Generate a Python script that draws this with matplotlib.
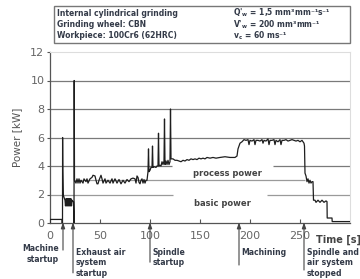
import matplotlib
matplotlib.use('Agg')
import matplotlib.pyplot as plt

# power trace (time in s, power in kW)
time_s = [0, 0, 12, 12, 12.5, 12.6, 12.8, 13.2, 14, 15, 15.5, 16, 16.5, 17, 17.5, 18,
          18.5, 19, 19.5, 20, 20.5, 21, 21.5, 22, 23, 23.5, 24, 24.2, 24.5,
          26, 27, 28, 29, 30, 31, 33, 34, 36, 37, 38, 40, 42, 43, 45, 46, 47, 48,
          49, 51, 52, 53, 55, 56, 58, 60, 62, 63, 65, 67, 69, 71, 73, 75, 77, 79,
          81, 83, 85, 86, 87, 88, 89, 90, 91, 92, 93, 94, 95, 96, 97,
          98, 98.5, 99, 100, 101, 102, 102.5, 103, 104, 106, 107, 108, 108.5, 109,
          110, 111, 112, 113, 114, 114.5, 115, 116, 117, 118, 119, 120, 120.5, 121,
          123, 125, 127, 129, 131, 133, 135, 137, 139, 141, 143, 145, 147, 149,
          151, 153, 155, 157, 160, 163, 166, 170, 175, 180, 185, 187, 188, 190,
          192, 194, 196, 198, 199, 200, 202, 204, 205, 206, 208, 210, 212, 213,
          214, 216, 218, 219, 220, 222, 224, 225, 226, 228, 230, 231, 232, 234,
          236, 238, 240, 242, 244, 246, 248, 250, 252, 254, 254.5, 255, 256, 257,
          258, 259, 260, 261, 262, 263, 263.5, 265, 266, 268, 270, 272, 274, 276,
          277, 277.2, 282, 282.2, 300]
power_kw = [0, 0.25, 0.25, 0, 0, 6.0, 3.7, 2.0, 1.8, 1.6, 1.2, 1.7, 1.2, 1.7, 1.2, 1.7,
            1.2, 1.7, 1.2, 1.7, 1.2, 1.7, 1.2, 1.6, 1.5, 1.5, 0, 10.0, 3.0,
            2.8, 3.1, 2.8, 3.1, 2.8, 3.0, 2.8, 3.1, 2.9, 3.1, 2.8, 3.1, 3.2, 3.35,
            3.3, 3.0, 2.75, 2.75, 3.0, 3.35, 3.1, 2.8, 3.1, 2.8, 3.0, 2.8, 3.1, 2.8,
            3.1, 2.8, 3.05, 2.75, 3.0, 2.8, 3.05, 2.9, 3.1, 3.15, 3.1, 2.8, 3.3,
            3.2, 2.85, 2.75, 3.0, 3.1, 2.8, 3.05, 2.8, 3.0, 3.0,
            3.6, 5.2, 3.6, 3.7, 3.9, 3.9, 5.4, 3.9, 3.95, 3.9, 4.0, 4.0, 6.3, 4.0,
            4.05, 4.0, 4.3, 4.1, 4.35, 7.3, 4.1, 4.35, 4.1, 4.4, 4.1, 4.3, 8.0, 4.5,
            4.5, 4.4, 4.4, 4.35, 4.3, 4.4, 4.35, 4.45, 4.4, 4.5, 4.45, 4.5, 4.45,
            4.55, 4.5, 4.55, 4.5, 4.6, 4.55, 4.6, 4.55, 4.6, 4.65, 4.6, 4.6, 4.7,
            5.2, 5.6, 5.7, 5.85, 5.8, 5.85, 5.5, 5.8, 5.75, 5.85, 5.5, 5.8, 5.8,
            5.75, 5.85, 5.6, 5.8, 5.75, 5.9, 5.5, 5.8, 5.8, 5.85, 5.5, 5.8, 5.7,
            5.85, 5.5, 5.8, 5.8, 5.85, 5.75, 5.8, 5.85, 5.8, 5.75, 5.8, 5.7, 5.8,
            5.6, 5.4, 3.5, 3.3, 2.9, 3.1, 2.8, 3.0, 2.8, 2.9, 2.9, 1.6, 1.6, 1.45,
            1.6, 1.45, 1.6, 1.45, 1.55, 1.5, 0.35, 0.35, 0.1, 0.1]

# events under the time axis: (time, label, arrow bottom in kW)
event_times = [13, 23, 100, 189, 254]
event_labels = ['Machine\nstartup', 'Exhaust air\nsystem\nstartup', 'Spindle\nstartup',
                'Machining', 'Spindle and\nair system\nstopped']
arrow_bottoms = [-1.9, -3.5, -2.75, -2.95, -3.3]

header_left = ['Internal cylindrical grinding', 'Grinding wheel: CBN',
               'Workpiece: 100Cr6 (62HRC)']
header_right = [r"Q'$_\mathbf{w}$ = 1,5 mm³mm⁻¹s⁻¹", r"V'$_\mathbf{w}$ = 200 mm³mm⁻¹",
                r"v$_\mathbf{c}$ = 60 ms⁻¹"]

txt = '#333a48'
fig = plt.figure(figsize=(3.6, 2.79), dpi=100)
ax = fig.add_axes([50/360, 56/279, 300/360, 171/279])
ax.set_xlim(0, 300)
ax.set_ylim(0, 12)

# grid lines (some are broken where the labels sit)
ax.hlines([6, 8, 10], 0, 300, color='#7a7a7a', lw=0.9, zorder=1)
ax.hlines(4, 0, 122, color='#7a7a7a', lw=0.9, zorder=1)
ax.hlines(4, 223, 300, color='#7a7a7a', lw=0.9, zorder=1)
ax.hlines(2, 0, 123, color='#9a9a9a', lw=0.9, zorder=1)
ax.hlines(2, 217, 300, color='#9a9a9a', lw=0.9, zorder=1)
ax.hlines(3, 24, 255, color='#9a9a9a', lw=0.9, zorder=1)

ax.plot(time_s, power_kw, color='#1e1e1e', lw=0.9, zorder=3)

ax.text(177, 3.5, 'process power', ha='center', va='center', fontsize=6,
        fontweight='bold', color='#444444')
ax.text(172, 1.4, 'basic power', ha='center', va='center', fontsize=6,
        fontweight='bold', color='#444444')

for sp in ['top', 'right']:
    ax.spines[sp].set_color('#dddddd')
    ax.spines[sp].set_linewidth(0.8)
for sp in ['left', 'bottom']:
    ax.spines[sp].set_color('#555555')
    ax.spines[sp].set_linewidth(0.9)
ax.set_xticks([0, 50, 100, 150, 200, 250])
ax.set_yticks([0, 2, 4, 6, 8, 10, 12])
ax.tick_params(axis='x', direction='in', length=3, color='#555555',
               labelsize=8, labelcolor='#666666', pad=6)
ax.tick_params(axis='y', direction='out', length=2, color='#555555',
               labelsize=8, labelcolor='#666666', pad=2)
ax.set_ylabel('Power [kW]', fontsize=7.5, color='#555555', labelpad=6)
ax.text(266, -1.2, 'Time [s]', ha='left', va='center', fontsize=7,
        fontweight='bold', color='#444444', clip_on=False)

for t, lab, yb in zip(event_times, event_labels, arrow_bottoms):
    ax.annotate('', xy=(t, 0.05), xytext=(t, yb), annotation_clip=False,
                arrowprops=dict(arrowstyle='-|>,head_length=0.35,head_width=0.12',
                                color='#444444', lw=0.8, shrinkA=0, shrinkB=0))
    if t < 20:
        ax.text(t - 4, -1.5, lab, ha='right', va='top', fontsize=5.6,
                fontweight='bold', color=txt, linespacing=1.2, clip_on=False)
    else:
        ax.text(t + 2.5, -1.75, lab, ha='left', va='top', fontsize=5.6,
                fontweight='bold', color=txt, linespacing=1.2, clip_on=False)

# parameter box at the top
fig.patches.append(plt.Rectangle((54/360, 1 - 43/279), 296/360, 37/279,
                                 transform=fig.transFigure, fill=False,
                                 edgecolor='#777777', lw=1.0))
for i in range(3):
    y = 1 - (13 + 11.5*i)/279
    fig.text(57/360, y, header_left[i], ha='left', va='center', fontsize=5.5,
             fontweight='bold', color=txt)
    fig.text(233/360, y, header_right[i], ha='left', va='center', fontsize=5.5,
             fontweight='bold', color=txt)

plt.savefig('out.png', dpi=100)
